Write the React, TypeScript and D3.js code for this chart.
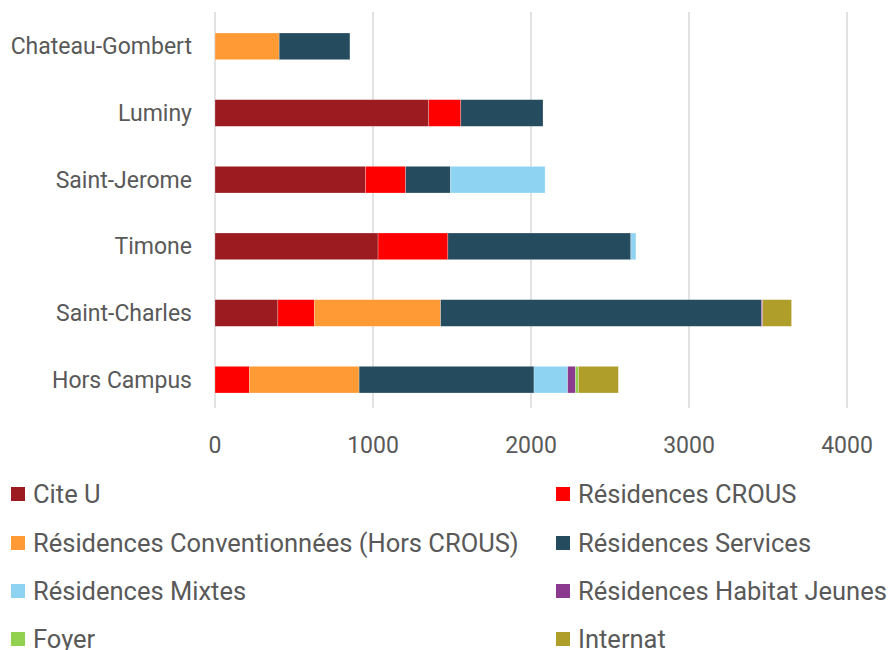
import React from "react";
import * as d3 from "d3";

const categories = ["Chateau-Gombert", "Luminy", "Saint-Jerome", "Timone", "Saint-Charles", "Hors Campus"];
const seriesNames = [
  "Cite U",
  "Résidences CROUS",
  "Résidences Conventionnées (Hors CROUS)",
  "Résidences Services",
  "Résidences Mixtes",
  "Résidences Habitat Jeunes",
  "Foyer",
  "Internat",
];
const seriesColors = ["#9B1B20", "#FF0000", "#FF9A35", "#244B5E", "#8FD3F3", "#8B3A8F", "#92D050", "#B09E2A"];

// values per category, in series order
const citeU = [0, 1353, 953, 1032, 398, 0];
const crous = [0, 203, 254, 442, 230, 218];
const conventionnees = [406, 0, 0, 0, 800, 694];
const services = [448, 520, 283, 1158, 2030, 1107];
const mixtes = [0, 0, 599, 32, 0, 213];
const habitatJeunes = [0, 0, 0, 0, 8, 50];
const foyer = [0, 0, 0, 0, 0, 18];
const internat = [0, 0, 0, 0, 183, 253];
const xTicks = [0, 1000, 2000, 3000, 4000];

const seriesValues = [citeU, crous, conventionnees, services, mixtes, habitatJeunes, foyer, internat];

export default function App() {
  const W = 891, H = 650;
  const x = d3.scaleLinear().domain([0, 4000]).range([215, 847]);
  const y = d3.scaleBand().domain(categories).range([13, 413]).paddingInner(0.6).paddingOuter(0.3);

  const rows = categories.map((c, i) => {
    const obj: any = { cat: c };
    seriesNames.forEach((s, j) => (obj[s] = seriesValues[j][i]));
    return obj;
  });
  const stacked = d3.stack().keys(seriesNames)(rows);

  const legendCol = [11, 556];
  const legendRow = [494, 543, 591, 639];
  const textColor = "#595959";
  const font = "Roboto, sans-serif";

  return (
    <svg width={W} height={H} style={{ position: "absolute", left: 0, top: 0, background: "#fff" }} fontFamily={font}>
      {xTicks.map((t) => (
        <line key={"g" + t} x1={x(t)} x2={x(t)} y1={12} y2={408} stroke="#D9D9D9" strokeWidth={1.5} />
      ))}
      {stacked.map((layer, j) => (
        <g key={seriesNames[j]} fill={seriesColors[j]}>
          {layer.map((d, i) =>
            d[1] - d[0] > 0 ? (
              <rect
                key={i}
                x={x(d[0])}
                y={y(categories[i])!}
                width={x(d[1]) - x(d[0])}
                height={y.bandwidth()}
                stroke="#ffffff"
                strokeOpacity={0.5}
                strokeWidth={0.5}
              />
            ) : null
          )}
        </g>
      ))}
      {categories.map((c) => (
        <text key={c} x={192} y={y(c)! + y.bandwidth() / 2} dy="0.35em" textAnchor="end" fontSize={23} fill={textColor}>
          {c}
        </text>
      ))}
      {xTicks.map((t) => (
        <text key={"t" + t} x={x(t)} y={445} dy="0.35em" textAnchor="middle" fontSize={23} fill={textColor}>
          {t}
        </text>
      ))}
      {seriesNames.map((s, j) => {
        const cx = legendCol[j % 2];
        const cy = legendRow[Math.floor(j / 2)];
        return (
          <g key={"l" + s}>
            <rect x={cx} y={cy - 7} width={14} height={14} fill={seriesColors[j]} />
            <text x={cx + 22} y={cy} dy="0.35em" fontSize={25.5} fill={textColor}>
              {s}
            </text>
          </g>
        );
      })}
    </svg>
  );
}
